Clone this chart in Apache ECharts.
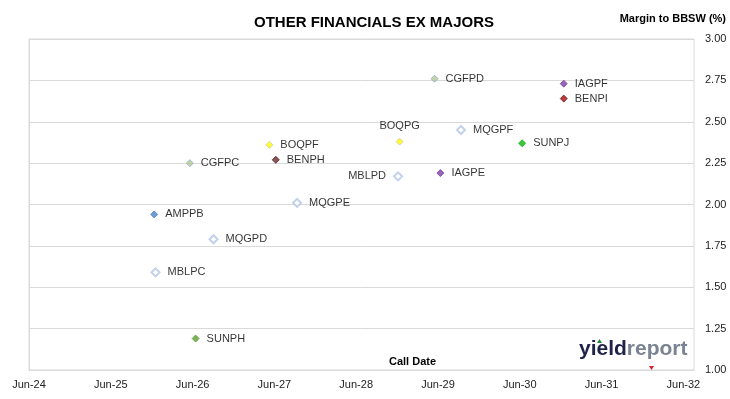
<!DOCTYPE html>
<html>
<head>
<meta charset="utf-8">
<script src="https://cdn.jsdelivr.net/npm/echarts@6/dist/echarts.min.js"></script>
<style>
  html, body { margin: 0; padding: 0; background: #fff; }
  #chart { width: 730px; height: 399px; }
</style>
</head>
<body>
<div id="chart"></div>
<script>
// securities, call dates and margins
const names = ["CGFPD", "IAGPF", "BENPI", "BOQPG", "MQGPF", "SUNPJ", "IAGPE", "MBLPD",
  "CGFPC", "BOQPF", "BENPH", "MQGPE", "AMPPB", "MQGPD", "MBLPC", "SUNPH"];
const callDates = ["2029-05-17", "2030-12-15", "2030-12-15", "2028-12-12", "2029-09-12",
  "2030-06-12", "2029-06-12", "2028-12-05", "2026-05-20", "2027-05-10", "2027-06-08",
  "2027-09-11", "2025-12-12", "2026-09-03", "2025-12-18", "2026-06-15"];
const margins = [2.76, 2.73, 2.64, 2.38, 2.45, 2.37, 2.19, 2.17,
  2.25, 2.36, 2.27, 2.01, 1.94, 1.79, 1.59, 1.19];
const xTickLabels = ["Jun-24", "Jun-25", "Jun-26", "Jun-27", "Jun-28", "Jun-29", "Jun-30", "Jun-31", "Jun-32"];

// marker styles per security
const styles = {
  CGFPD: { fill: "#b5c98f", border: "#8eaacb" },
  CGFPC: { fill: "#b5c98f", border: "#8eaacb" },
  IAGPF: { fill: "#7b3fa6", border: "#7b3fa6" },
  IAGPE: { fill: "#7b3fa6", border: "#7b3fa6" },
  BENPI: { fill: "#a50d0d", border: "#6b1a1a" },
  BENPH: { fill: "#6e2c2c", border: "#4e1c1c" },
  BOQPG: { fill: "#ffff00", border: "#c8c8a0" },
  BOQPF: { fill: "#ffff00", border: "#c8c8a0" },
  SUNPJ: { fill: "#12b312", border: "#12b312" },
  SUNPH: { fill: "#5c9e36", border: "#5c9e36" },
  AMPPB: { fill: "#4f81c7", border: "#4f81c7" },
  MQGPF: { hollow: true, border: "#b4c6e6" },
  MQGPE: { hollow: true, border: "#b4c6e6" },
  MQGPD: { hollow: true, border: "#b4c6e6" },
  MBLPD: { hollow: true, border: "#b4c6e6" },
  MBLPC: { hollow: true, border: "#b4c6e6" }
};
const labelPos = { BOQPG: "top", MBLPD: "left" };

const base = Date.UTC(2024, 5, 1);
function yearsFromBase(s) {
  const p = s.split("-").map(Number);
  return (Date.UTC(p[0], p[1] - 1, p[2]) - base) / (365.25 * 864e5);
}

const points = names.map((n, i) => {
  const st = styles[n];
  return {
    name: n,
    value: [yearsFromBase(callDates[i]), margins[i]],
    symbolSize: st.hollow ? 8 : 7,
    itemStyle: st.hollow
      ? { color: "#ffffff", borderColor: st.border, borderWidth: 2 }
      : { color: st.fill, borderColor: st.border, borderWidth: 1 },
    label: { position: labelPos[n] || "right", distance: labelPos[n] === "top" ? 6 : 7 }
  };
});

const chart = echarts.init(document.getElementById("chart"));
const font = "'Liberation Sans', Arial, sans-serif";

chart.setOption({
  animation: false,
  textStyle: { fontFamily: font },
  title: {
    text: "OTHER FINANCIALS EX MAJORS",
    left: 369, top: 10, textAlign: "center",
    textStyle: { fontSize: 15, fontWeight: "bold", color: "#000", fontFamily: font }
  },
  grid: {
    left: 29, right: 36, top: 39, bottom: 29,
    containLabel: false,
    outerBoundsMode: "none",
    show: true, borderColor: "#d9d9d9", borderWidth: 1
  },
  xAxis: {
    type: "value",
    min: 0, max: 8.13, interval: 1,
    axisLine: { show: true, lineStyle: { color: "#d9d9d9" } },
    axisTick: { show: false },
    splitLine: { show: false },
    axisLabel: {
      margin: 9, fontSize: 11, color: "#222", fontFamily: font,
      formatter: v => xTickLabels[Math.round(v)] || ""
    }
  },
  yAxis: {
    type: "value",
    position: "right",
    min: 1, max: 3, interval: 0.25,
    axisLine: { show: true, lineStyle: { color: "#d9d9d9" } },
    axisTick: { show: true, length: 4, lineStyle: { color: "#d9d9d9" } },
    splitLine: { show: true, lineStyle: { color: "#d9d9d9" } },
    axisLabel: {
      margin: 11, fontSize: 11, color: "#222", fontFamily: font,
      formatter: v => v.toFixed(2)
    }
  },
  series: [{
    type: "scatter",
    symbol: "diamond",
    data: points,
    label: {
      show: true,
      formatter: "{b}",
      fontSize: 11,
      color: "#000",
      fontFamily: font
    }
  }],
  graphic: [
    {
      type: "text", right: 4, top: 13,
      style: { text: "Margin to BBSW (%)", fontSize: 11, fontWeight: "bold", fill: "#000", fontFamily: font }
    },
    {
      type: "text", left: 389, top: 356,
      style: { text: "Call Date", fontSize: 11, fontWeight: "bold", fill: "#000", fontFamily: font }
    },
    {
      type: "text", left: 579, top: 339,
      style: {
        text: "{a|yield}{b|report}",
        fontFamily: font,
        rich: {
          a: { fontSize: 21, fontWeight: "bold", fill: "#1f2347", fontFamily: font },
          b: { fontSize: 21, fontWeight: "bold", fill: "#7a8392", fontFamily: font }
        }
      }
    },
    {
      type: "polygon",
      shape: { points: [[597, 343], [599.5, 339], [602, 343]] },
      style: { fill: "#1e8a3c" }
    },
    {
      type: "polygon",
      shape: { points: [[649, 366], [654, 366], [651.5, 370]] },
      style: { fill: "#e02020" }
    }
  ]
});
</script>
</body>
</html>
